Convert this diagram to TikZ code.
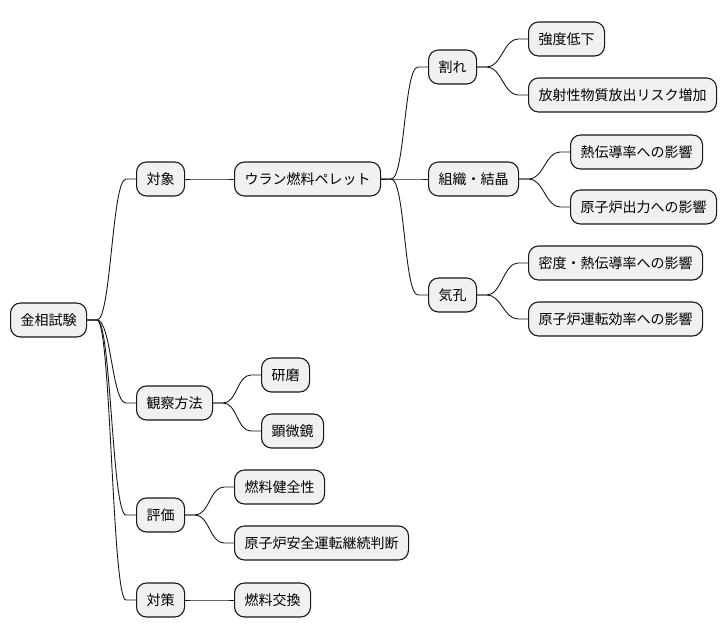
\documentclass[tikz,border=0pt]{standalone}
\usepackage{fontspec}
\setmainfont{Noto Sans CJK JP}
\usetikzlibrary{calc}
\definecolor{nodefill}{HTML}{F1F1F1}
\definecolor{edge}{HTML}{181818}
\begin{document}
\begin{tikzpicture}[x=1pt,y=-1pt,
  box/.style={draw=edge,fill=nodefill,line width=1.1pt,rounded corners=10pt,
    minimum height=34pt,inner xsep=10pt,inner ysep=0pt,anchor=west,
    font=\fontsize{14pt}{16pt}\selectfont},
  conn/.style={draw=edge,line width=0.9pt,
    to path={-- ++(10,0) .. controls +(14,0) and +(-14,0) .. ($(\tikztotarget)+(-10,0)$) -- (\tikztotarget)}}]
\useasboundingbox (0,0) rectangle (726,640);
\node[box] (root) at (10,320) {金相試験};
\node[box] (t1) at (136,179) {対象};
\node[box] (t1a) at (234,179) {ウラン燃料ペレット};
\node[box] (w) at (428,67) {割れ};
\node[box] (w1) at (528,39) {強度低下};
\node[box] (w2) at (528,95) {放射性物質放出リスク増加};
\node[box] (s) at (428,179) {組織・結晶};
\node[box] (s1) at (570,152) {熱伝導率への影響};
\node[box] (s2) at (570,207) {原子炉出力への影響};
\node[box] (k) at (428,295) {気孔};
\node[box] (k1) at (528,263) {密度・熱伝導率への影響};
\node[box] (k2) at (528,319) {原子炉運転効率への影響};
\node[box] (m) at (136,403) {観察方法};
\node[box] (m1) at (261,375) {研磨};
\node[box] (m2) at (261,431) {顕微鏡};
\node[box] (h) at (136,515) {評価};
\node[box] (h1) at (234,487) {燃料健全性};
\node[box] (h2) at (234,543) {原子炉安全運転継続判断};
\node[box] (c) at (136,600) {対策};
\node[box] (c1) at (234,600) {燃料交換};
\foreach \a/\b in {root/t1,root/m,root/h,root/c,t1/t1a,t1a/w,t1a/s,t1a/k,
  w/w1,w/w2,s/s1,s/s2,k/k1,k/k2,m/m1,m/m2,h/h1,h/h2,c/c1}
  \draw[conn] (\a.east) to (\b.west);
\end{tikzpicture}
\end{document}
